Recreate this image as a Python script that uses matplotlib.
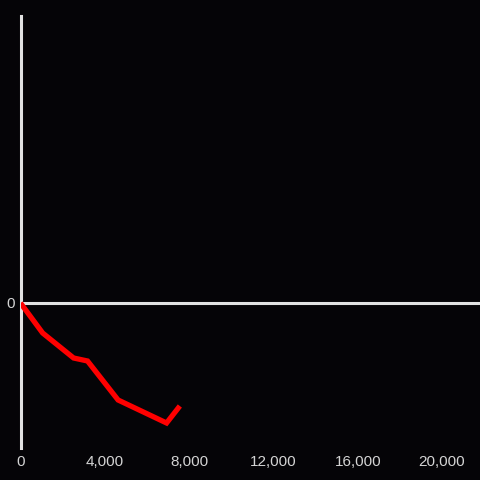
import matplotlib
matplotlib.use('Agg')
import matplotlib.pyplot as plt
from matplotlib.ticker import FuncFormatter

# values
xs = [0, 1050, 2520, 3180, 4630, 6930, 7560]
ys = [0, -30, -55, -58, -97, -120, -103]
x_ticks = [0, 4000, 8000, 12000, 16000, 20000]
y_ticks = [0]

bg = '#050407'
fg = '#e2e2e2'
txt = '#d4d4d4'

plt.rcParams['font.family'] = ['Liberation Sans', 'DejaVu Sans']

fig = plt.figure(figsize=(4.8, 4.8), dpi=100, facecolor=bg)
ax = fig.add_axes([20.5/480, 32/480, 1 - 20.5/480, 432/480], facecolor=bg)

ax.axhline(0, color=fg, lw=2.2, zorder=2)
ax.plot(xs, ys, color='#ff0000', lw=3.8, solid_joinstyle='miter',
        solid_capstyle='butt', zorder=3)

ax.set_xlim(0, 21800)
ax.set_ylim(-145, 287)

for s in ['top', 'right', 'bottom']:
    ax.spines[s].set_visible(False)
ax.spines['left'].set_color(fg)
ax.spines['left'].set_linewidth(2.2)

ax.set_xticks(x_ticks)
ax.set_yticks(y_ticks)
ax.xaxis.set_major_formatter(FuncFormatter(lambda v, p: '{:,.0f}'.format(v)))
ax.tick_params(axis='x', length=0, pad=5, labelsize=11, labelcolor=txt)
ax.tick_params(axis='y', length=0, pad=4, labelsize=11, labelcolor=txt)

fig.savefig('out.png', dpi=100, facecolor=bg)
